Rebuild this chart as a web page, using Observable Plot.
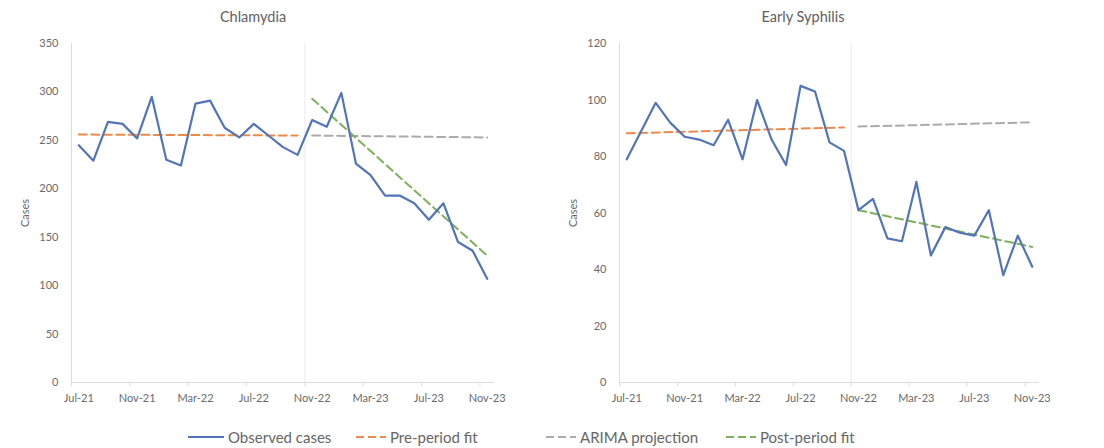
<!DOCTYPE html>
<html>
<head>
<meta charset="utf-8">
<script src="https://cdn.jsdelivr.net/npm/d3@7"></script>
<script src="https://cdn.jsdelivr.net/npm/@observablehq/plot@0.6"></script>
<style>
  body { margin: 0; background: #fff; font-family: Lato, "Open Sans", sans-serif; color: #666; }
  #wrap { position: relative; width: 1104px; height: 448px; overflow: hidden; }
  .panel { position: absolute; top: 0; width: 552px; height: 420px; }
  .title { position: absolute; top: 8px; left: 0; width: 506px; text-align: center; font-size: 14.5px; color: #606060; }
  .panel svg { position: absolute; top: 30px; left: 0; }
  .legend { position: absolute; top: 426px; left: 0; width: 1104px; height: 22px; font-size: 15px; color: #666; }
  .item { position: absolute; top: 0; display: flex; align-items: center; height: 22px; }
  .item svg { margin-right: 4px; }
</style>
</head>
<body>
<div id="wrap">
  <div class="panel" id="left"><div class="title">Chlamydia</div></div>
  <div class="panel" id="right" style="left:550px"><div class="title">Early Syphilis</div></div>
  <div class="legend" id="legend"></div>
</div>
<script>
// Monthly reporting periods
const months = ["Jul-21","Aug-21","Sep-21","Oct-21","Nov-21","Dec-21","Jan-22","Feb-22","Mar-22","Apr-22","May-22","Jun-22",
                "Jul-22","Aug-22","Sep-22","Oct-22","Nov-22","Dec-22","Jan-23","Feb-23","Mar-23","Apr-23","May-23","Jun-23",
                "Jul-23","Aug-23","Sep-23","Oct-23","Nov-23"];
const tickMonths = ["Jul-21","Nov-21","Mar-22","Jul-22","Nov-22","Mar-23","Jul-23","Nov-23"];
const lastPreMonth = "Oct-22";

// Observed monthly cases
const chlamydiaCases = [245,229,269,267,252,295,230,224,288,291,263,253,267,255,243,235,271,264,299,226,214,193,193,185,168,185,145,136,107];
const syphilisCases  = [79,89,99,92,87,86,84,93,79,100,86,77,105,103,85,82,61,65,51,50,71,45,55,53,52,61,38,52,41];

// Fitted lines: start and end values over each span
const preSpan  = ["Jul-21","Oct-22"];
const postSpan = ["Nov-22","Nov-23"];
const chlamydiaPreFit  = [256, 255];
const chlamydiaArima   = [255, 253];
const chlamydiaPostFit = [293, 131];
const syphilisPreFit   = [88.2, 90.3];
const syphilisArima    = [90.6, 92.1];
const syphilisPostFit  = [61, 48];

// Axis ticks
const chlamydiaTicks = [0,50,100,150,200,250,300,350];
const syphilisTicks  = [0,20,40,60,80,100,120];

const colors = {observed: "#5274b9", pre: "#ec8a4c", arima: "#ababab", post: "#7db15a"};
const dash = "8,4.5";

const idx = m => months.indexOf(m);
const series = values => values.map((v, i) => ({i, v}));
const segment = (span, values) => span.map((m, k) => ({i: idx(m), v: values[k]}));

function panel({cases, pre, arima, post, ticks, ymax, marginLeft, marginRight}) {
  const boundary = idx(lastPreMonth) + 0.5;
  const edgeTicks = tickMonths.map(m => idx(m) - 0.5);
  return Plot.plot({
    width: 552,
    height: 390,
    marginTop: 13,
    marginBottom: 38,
    marginLeft,
    marginRight,
    style: {fontFamily: "Lato, 'Open Sans', sans-serif", fontSize: "11px", color: "#6a6a6a", background: "#fff"},
    x: {type: "linear", domain: [-0.5, months.length - 0.5]},
    y: {domain: [0, ymax]},
    marks: [
      Plot.ruleX([-0.5], {stroke: "#dcdcdc"}),
      Plot.ruleX([boundary], {stroke: "#ececec"}),
      Plot.ruleY([0], {stroke: "#dcdcdc"}),
      Plot.axisX({ticks: edgeTicks, tickSize: 4, stroke: "#dcdcdc", tickFormat: () => "", label: null}),
      Plot.axisX({ticks: tickMonths.map(idx), tickSize: 0, tickPadding: 12, tickFormat: i => months[i], label: null}),
      Plot.axisY({ticks, tickSize: 0, tickPadding: 13, label: "Cases", labelAnchor: "center", labelArrow: "none", labelOffset: 50}),
      Plot.line(segment(preSpan, pre), {x: "i", y: "v", stroke: colors.pre, strokeWidth: 2, strokeDasharray: dash}),
      Plot.line(segment(postSpan, arima), {x: "i", y: "v", stroke: colors.arima, strokeWidth: 2, strokeDasharray: dash}),
      Plot.line(segment(postSpan, post), {x: "i", y: "v", stroke: colors.post, strokeWidth: 2, strokeDasharray: dash}),
      Plot.line(series(cases), {x: "i", y: "v", stroke: colors.observed, strokeWidth: 2.2, strokeLinejoin: "round"})
    ]
  });
}

document.getElementById("left").append(panel({
  cases: chlamydiaCases, pre: chlamydiaPreFit, arima: chlamydiaArima, post: chlamydiaPostFit,
  ticks: chlamydiaTicks, ymax: 350, marginLeft: 71, marginRight: 58
}));
document.getElementById("right").append(panel({
  cases: syphilisCases, pre: syphilisPreFit, arima: syphilisArima, post: syphilisPostFit,
  ticks: syphilisTicks, ymax: 120, marginLeft: 69, marginRight: 63
}));

// Legend
const legendItems = [
  {label: "Observed cases", color: colors.observed, dashed: false, left: 188, w: 36},
  {label: "Pre-period fit", color: colors.pre, dashed: true, left: 356, w: 30},
  {label: "ARIMA projection", color: colors.arima, dashed: true, left: 546, w: 30},
  {label: "Post-period fit", color: colors.post, dashed: true, left: 726, w: 30}
];
const legend = d3.select("#legend");
for (const d of legendItems) {
  const item = legend.append("div").attr("class", "item").style("left", d.left + "px");
  const svg = item.append("svg").attr("width", d.w).attr("height", 10);
  svg.append("line").attr("x1", 0).attr("x2", d.w).attr("y1", 5).attr("y2", 5)
    .attr("stroke", d.color).attr("stroke-width", 2.2)
    .attr("stroke-dasharray", d.dashed ? "8,4" : null);
  item.append("span").text(d.label);
}
</script>
</body>
</html>
